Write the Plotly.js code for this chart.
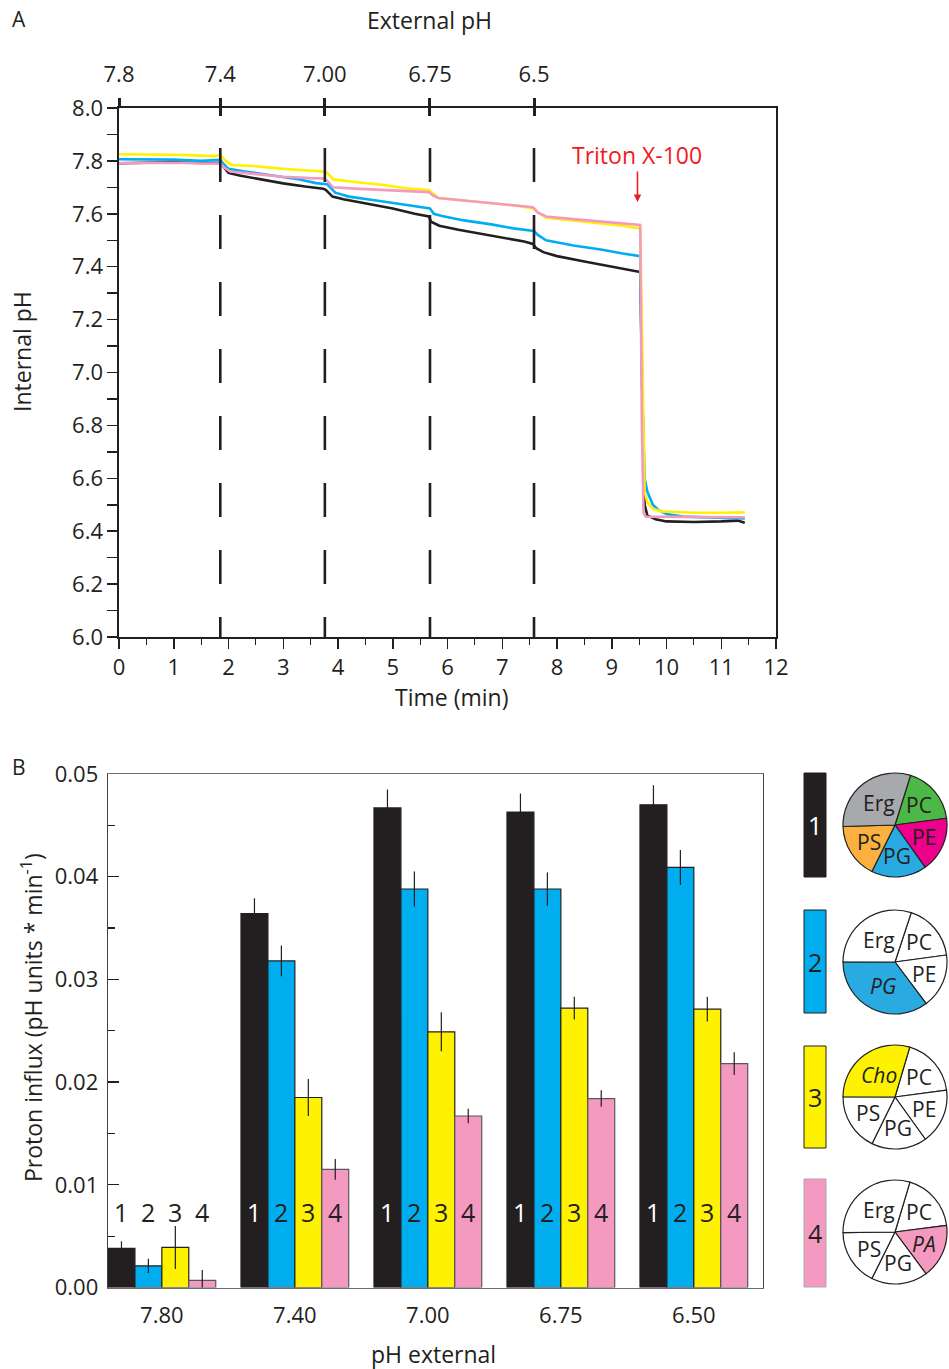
<!DOCTYPE html>
<html>
<head>
<meta charset="utf-8">
<script src="https://cdn.plot.ly/plotly-3.0.1.min.js"></script>
<style>html,body{margin:0;padding:0;background:#fff;}#chart{width:949px;height:1369px;}</style>
</head>
<body>
<div id="chart"></div>
<script>
// ---------- Panel A data ----------
const blackT = [0,0.5,1.0,1.5,1.85,1.9,2.0,2.2,2.6,3.0,3.4,3.73,3.78,3.9,4.1,4.5,5.0,5.4,5.66,5.7,5.85,6.2,6.6,7.0,7.4,7.56,7.62,7.75,8.0,8.5,9.0,9.5,9.52,9.56,9.6,9.65,9.8,10.0,10.5,11.0,11.3,11.43];
const blackV = [7.791,7.793,7.795,7.792,7.792,7.78,7.755,7.745,7.73,7.715,7.703,7.695,7.69,7.665,7.655,7.64,7.62,7.60,7.59,7.57,7.555,7.54,7.525,7.51,7.495,7.486,7.47,7.455,7.44,7.42,7.40,7.382,7.38,6.9,6.50,6.46,6.445,6.437,6.435,6.437,6.44,6.432];

const blueT = [0,1.0,1.5,1.85,1.9,2.0,2.3,2.8,3.3,3.6,3.73,3.8,3.95,4.2,4.7,5.2,5.5,5.68,5.75,5.9,6.3,6.8,7.2,7.58,7.65,7.8,8.3,8.8,9.2,9.52,9.56,9.6,9.65,9.75,9.85,10.0,10.3,11.0,11.43];
const blueV = [7.806,7.805,7.80,7.804,7.79,7.77,7.76,7.745,7.73,7.716,7.715,7.712,7.68,7.665,7.65,7.635,7.625,7.62,7.60,7.592,7.575,7.56,7.545,7.535,7.52,7.50,7.48,7.465,7.45,7.44,6.9,6.60,6.55,6.50,6.48,6.465,6.455,6.45,6.448];

const yellowT = [0,0.5,1.0,1.5,1.75,1.85,1.95,2.05,2.5,3.0,3.5,3.73,3.8,3.92,4.3,4.8,5.3,5.66,5.72,5.83,6.3,6.8,7.3,7.56,7.65,7.8,8.3,8.8,9.2,9.52,9.56,9.6,9.65,9.75,9.9,10.5,11.0,11.43];
const yellowV = [7.825,7.825,7.823,7.82,7.818,7.822,7.80,7.785,7.78,7.77,7.763,7.76,7.755,7.73,7.72,7.71,7.695,7.69,7.68,7.66,7.65,7.64,7.63,7.62,7.605,7.585,7.575,7.565,7.555,7.545,7.0,6.55,6.51,6.485,6.475,6.47,6.47,6.471];

const pinkT = [0,1.0,1.5,1.85,1.92,2.03,2.5,3.0,3.5,3.73,3.8,3.91,4.3,4.8,5.3,5.66,5.73,5.83,6.3,6.8,7.3,7.56,7.65,7.8,8.3,8.8,9.2,9.52,9.55,9.58,9.62,10.0,11.0,11.43];
const pinkV = [7.791,7.793,7.79,7.79,7.775,7.76,7.75,7.74,7.735,7.734,7.725,7.70,7.695,7.69,7.683,7.682,7.67,7.66,7.65,7.64,7.63,7.625,7.605,7.59,7.58,7.57,7.563,7.558,6.8,6.47,6.455,6.455,6.455,6.453];

const stepTimes = [1.85, 3.76, 5.68, 7.58];
const topTickVals = [0, 1.85, 3.76, 5.68, 7.58];
const topTickText = ["7.8", "7.4", "7.00", "6.75", "6.5"];
const tritonTime = 9.47;
const tritonY = 7.645;

// ---------- Panel B data ----------
const phCategories = ["7.80", "7.40", "7.00", "6.75", "6.50"];
const influx1 = [0.0038, 0.0364, 0.0467, 0.0463, 0.0470];
const influx2 = [0.0021, 0.0318, 0.0388, 0.0388, 0.0409];
const influx3 = [0.0039, 0.0185, 0.0249, 0.0272, 0.0271];
const influx4 = [0.0007, 0.0115, 0.0167, 0.0184, 0.0218];
const err1 = [0.0007, 0.0015, 0.0018, 0.0018, 0.0019];
const err2 = [0.0007, 0.0015, 0.0017, 0.0016, 0.0017];
const err3 = [0.0021, 0.0018, 0.0019, 0.0011, 0.0012];
const err4 = [0.0010, 0.0010, 0.0007, 0.0008, 0.0011];
const seriesNames = ["1", "2", "3", "4"];

// pie compositions (percent, clockwise starting at the top boundary)
const pie1Labels = ["PC", "PE", "PG", "PS", "Erg"];
const pie1Values = [18.1, 17.2, 17.2, 17.2, 30.3];
const pie2Labels = ["PC", "PE", "<i>PG</i>", "Erg"];
const pie2Values = [17.8, 16.9, 35.3, 30.0];
const pie3Labels = ["PC", "PE", "PG", "PS", "<i>Cho</i>"];
const pie3Values = [18.3, 17.2, 17.2, 17.8, 29.5];
const pie4Labels = ["PC", "<i>PA</i>", "PG", "PS", "Erg"];
const pie4Values = [18.3, 16.9, 17.5, 17.5, 29.8];

// ---------- styling ----------
const W = 949, H = 1369;
const px = v => v / W;
const py = v => 1 - v / H;
const FONT = "Open Sans, sans-serif";
const INK = "#231f20";
const cBlack = "#231f20", cBlue = "#00aeef", cYellow = "#fff200", cPink = "#f49ac1";
const barColors = [cBlack, cBlue, cYellow, cPink];
const pie1Colors = ["#4db848", "#ec008c", "#29abe2", "#fbb040", "#a7a9ac"];
const pie2Colors = ["#ffffff", "#ffffff", "#29abe2", "#ffffff"];
const pie3Colors = ["#ffffff", "#ffffff", "#ffffff", "#ffffff", cYellow];
const pie4Colors = ["#ffffff", cPink, "#ffffff", "#ffffff", "#ffffff"];

const traces = [];
function lineTrace(t, v, color) {
  return {type: "scatter", mode: "lines", x: t, y: v, xaxis: "x", yaxis: "y",
    line: {color: color, width: 2.6}, showlegend: false, hoverinfo: "skip"};
}
traces.push(lineTrace(blackT, blackV, cBlack));
traces.push(lineTrace(blueT, blueV, cBlue));
traces.push(lineTrace(yellowT, yellowV, cYellow));
traces.push(lineTrace(pinkT, pinkV, cPink));
// empty traces so the top (external pH) axes get drawn
["x2", "x4"].forEach(a => traces.push({type: "scatter", mode: "lines", x: [topTickVals[0]], y: [null],
  xaxis: a, yaxis: "y", showlegend: false, hoverinfo: "skip"}));

const influx = [influx1, influx2, influx3, influx4];
const errs = [err1, err2, err3, err4];
const groupX = phCategories.map((c, i) => i);
for (let s = 0; s < 4; s++) {
  traces.push({type: "bar", x: groupX, y: influx[s], name: seriesNames[s],
    xaxis: "x3", yaxis: "y3", showlegend: false, cliponaxis: false,
    marker: {color: barColors[s], line: {color: s === 3 ? "#58595b" : INK, width: 1.2}},
    error_y: {type: "data", array: errs[s], visible: true, color: INK, thickness: 1.2, width: 0}});
}

const tf = (size, color) => ({family: FONT, size: size, color: color || INK});
const ann = [];

const pieCenters = [825, 962, 1097, 1232];
const pieSpecs = [[pie1Labels, pie1Values, pie1Colors, 17.4], [pie2Labels, pie2Values, pie2Colors, 18.2],
                  [pie3Labels, pie3Values, pie3Colors, 16.5], [pie4Labels, pie4Values, pie4Colors, 16.7]];
const pieR = 52, pieCX = 895;
pieSpecs.forEach((p, i) => {
  traces.push({type: "pie", labels: p[0].map(l => l.replace(/<\/?i>/g, "")), values: p[1],
    textinfo: "none", sort: false, direction: "clockwise", rotation: p[3], showlegend: false, hoverinfo: "skip",
    marker: {colors: p[2], line: {color: INK, width: 1.2}},
    domain: {x: [px(pieCX - pieR), px(pieCX + pieR)], y: [py(pieCenters[i] + pieR), py(pieCenters[i] - pieR)]}});
  // slice labels placed at each slice's mid-angle
  const total = p[1].reduce((a, b) => a + b, 0);
  let start = p[3];
  p[1].forEach((v, k) => {
    const span = v / total * 360;
    const mid = (start + span / 2) * Math.PI / 180;
    start += span;
    const rr = pieR * (span > 90 ? 0.52 : 0.6);
    ann.push({xref: "paper", yref: "paper", xanchor: "center", yanchor: "middle",
      x: px(pieCX + rr * Math.sin(mid)), y: py(pieCenters[i] - rr * Math.cos(mid)),
      text: p[0][k], showarrow: false, font: tf(21)});
  });
});

// ---------- shapes ----------
const shapes = stepTimes.map(t => ({type: "line", xref: "x", yref: "y", x0: t, x1: t, y0: 7.849, y1: 6.0,
  line: {color: INK, width: 2.6, dash: "34px,33px"}}));
const swatchY = [[773, 877], [910, 1013], [1046, 1148], [1179, 1287]];
swatchY.forEach((yy, i) => {
  shapes.push({type: "rect", xref: "paper", yref: "paper", x0: px(804), x1: px(826), y0: py(yy[1]), y1: py(yy[0]),
    fillcolor: barColors[i], line: {color: i === 3 ? "#a7a9ac" : INK, width: 1}});
});

// ---------- annotations ----------
function pt(x, y, text, size, extra) {
  return Object.assign({xref: "paper", yref: "paper", x: px(x), y: py(y), xanchor: "center", yanchor: "middle",
    text: text, showarrow: false, font: tf(size)}, extra || {});
}
ann.push(pt(19, 19, "A", 21));
ann.push(pt(19, 767, "B", 21));
ann.push(pt(429, 20, "External pH", 23));
ann.push(pt(22, 352, "Internal pH", 23, {textangle: -90}));
ann.push(pt(451, 697, "Time (min)", 23));
ann.push(pt(32, 1018, "Proton influx (pH units * min<sup>-1</sup>)", 23, {textangle: -90}));
ann.push(pt(433, 1354, "pH external", 23));
ann.push({xref: "x", yref: "y", x: tritonTime, y: tritonY, ax: 0, ay: -32, text: "", showarrow: true,
  arrowhead: 2, arrowsize: 1, arrowwidth: 1.5, arrowcolor: "#ed1c24"});
ann.push({xref: "x", yref: "y", x: tritonTime, y: tritonY, yshift: 47, xanchor: "center", yanchor: "middle",
  text: "Triton X-100", showarrow: false, font: tf(23, "#ed1c24")});
const barW = 0.81 / 4;
const labelY = 0.0074;
for (let g = 0; g < phCategories.length; g++) {
  for (let s = 0; s < 4; s++) {
    ann.push({xref: "x3", yref: "y3", x: g + (s - 1.5) * barW, y: labelY, xanchor: "center", yanchor: "middle",
      text: seriesNames[s], showarrow: false, font: tf(25, (s === 0 && g > 0) ? "#ffffff" : INK)});
  }
}
swatchY.forEach((yy, i) => {
  ann.push(pt(815, (yy[0] + yy[1]) / 2, seriesNames[i], 25, {font: tf(25, i === 0 ? "#ffffff" : INK)}));
});

const axBase = {showgrid: false, zeroline: false, linecolor: INK, tickcolor: INK, tickfont: tf(22), automargin: false, fixedrange: true};

const layout = {
  width: W, height: H, margin: {l: 0, r: 0, t: 0, b: 0}, paper_bgcolor: "#fff", plot_bgcolor: "rgba(0,0,0,0)",
  showlegend: false, barmode: "group", bargap: 0.19, bargroupgap: 0,
  font: {family: FONT, color: INK},
  xaxis: Object.assign({}, axBase, {domain: [px(119), px(776)], anchor: "y", range: [0, 12], dtick: 1, tick0: 0,
    ticks: "outside", ticklen: 10, tickwidth: 1.5, showline: true, linewidth: 2,
    minor: {dtick: 0.5, ticklen: 6, ticks: "outside", tickwidth: 1.2, tickcolor: INK}}),
  xaxis2: Object.assign({}, axBase, {overlaying: "x", side: "top", anchor: "y", range: [0, 12],
    tickmode: "array", tickvals: topTickVals, ticktext: topTickText, ticks: "outside", ticklen: 8, tickwidth: 3,
    showline: true, linewidth: 2, ticklabelstandoff: 7}),
  xaxis4: Object.assign({}, axBase, {overlaying: "x", side: "top", anchor: "y", range: [0, 12],
    tickmode: "array", tickvals: topTickVals, ticks: "inside", ticklen: 8, tickwidth: 3, showticklabels: false, showline: false}),
  yaxis: Object.assign({}, axBase, {domain: [py(637), py(108)], anchor: "x", range: [6, 8], dtick: 0.2, tick0: 6,
    tickformat: ".1f", ticks: "outside", ticklen: 10, tickwidth: 1.5, showline: true, linewidth: 1.6, mirror: true,
    minor: {dtick: 0.1, ticklen: 10, ticks: "outside", tickwidth: 1.5, tickcolor: INK}}),
  xaxis3: Object.assign({}, axBase, {domain: [px(108), px(763)], anchor: "y3", range: [-0.405, 4.52],
    tickmode: "array", tickvals: groupX, ticktext: phCategories, ticks: "", showline: true, mirror: true,
    linecolor: "#6d6e71", linewidth: 1.5, ticklabelstandoff: 8}),
  yaxis3: Object.assign({}, axBase, {domain: [py(1287.5), py(774)], anchor: "x3", range: [0, 0.05], dtick: 0.01, tick0: 0,
    tickformat: ".2f", ticks: "inside", ticklen: 11, tickwidth: 1.2, showline: true, linewidth: 1.3, mirror: true,
    linecolor: "#414042", ticklabelstandoff: 4,
    minor: {dtick: 0.005, ticklen: 7, ticks: "inside", tickwidth: 1.2, tickcolor: INK}}),
  shapes: shapes,
  annotations: ann
};

Plotly.newPlot("chart", traces, layout, {staticPlot: true, displayModeBar: false});
</script>
</body>
</html>
